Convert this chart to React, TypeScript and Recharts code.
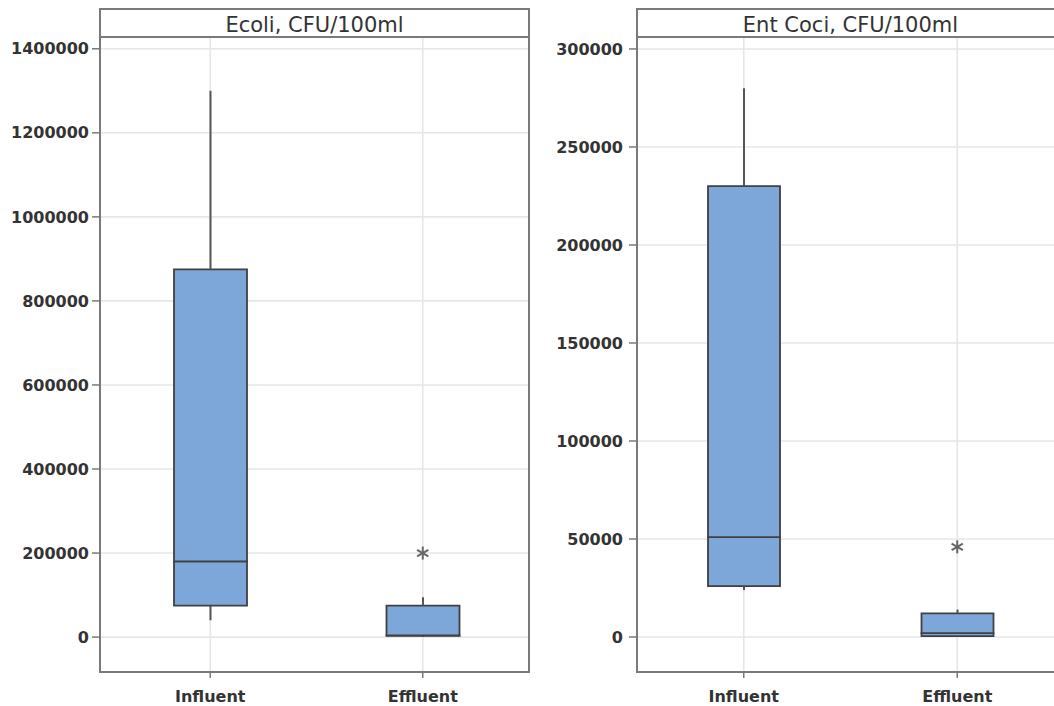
import { ComposedChart, Bar, Scatter, XAxis, YAxis, CartesianGrid } from "recharts";

const groups = ["Influent", "Effluent"];

// Ecoli, CFU/100ml
const ecoliMin = [40000, 1000];
const ecoliQ1 = [75000, 3000];
const ecoliMedian = [180000, 4000];
const ecoliQ3 = [875000, 75000];
const ecoliMax = [1300000, 95000];
const ecoliOutliers = [null, 200000];
const ecoliTicks = [0, 200000, 400000, 600000, 800000, 1000000, 1200000, 1400000];

// Ent Coci, CFU/100ml
const entMin = [24000, 200];
const entQ1 = [26000, 400];
const entMedian = [51000, 2000];
const entQ3 = [230000, 12000];
const entMax = [280000, 14000];
const entOutliers = [null, 46000];
const entTicks = [0, 50000, 100000, 150000, 200000, 250000, 300000];

const FONT = "'DejaVu Sans', sans-serif";
const BOX_FILL = "#7da7d9";
const FRAME = "#7a7a7a";

function buildRows(
  min: number[],
  q1: number[],
  med: number[],
  q3: number[],
  max: number[],
  out: (number | null)[]
) {
  return groups.map((name, i) => ({
    name,
    base: min[i],
    lowWhisker: q1[i] - min[i],
    lowBox: med[i] - q1[i],
    highBox: q3[i] - med[i],
    highWhisker: max[i] - q3[i],
    outlier: out[i],
  }));
}

const Whisker = (props: any) => {
  const { x, y, width, height } = props;
  if (x == null || y == null) return <g />;
  const cx = x + width / 2;
  return <line x1={cx} x2={cx} y1={y} y2={y + height} stroke="#555" strokeWidth={2} />;
};

const Asterisk = (props: any) => {
  const { cx, cy } = props;
  if (cx == null || cy == null || isNaN(cy)) return <g />;
  const r = 6.5;
  return (
    <g stroke="#666" strokeWidth={2}>
      {[90, 30, 150].map((a) => {
        const dx = r * Math.cos((a * Math.PI) / 180);
        const dy = r * Math.sin((a * Math.PI) / 180);
        return <line key={a} x1={cx - dx} y1={cy - dy} x2={cx + dx} y2={cy + dy} />;
      })}
    </g>
  );
};

type PanelProps = {
  title: string;
  rows: ReturnType<typeof buildRows>;
  ticks: number[];
  domain: [number, number];
  left: number;
  width: number;
  marginLeft: number;
  marginRight: number;
  labelGap: number;
  barSize: number;
  padLeft: number;
};

const Panel = (p: PanelProps) => {
  const plotLeft = p.left + 90 + p.marginLeft;
  const plotWidth = p.width - 90 - p.marginLeft - p.marginRight;
  return (
    <>
      <div style={{ position: "absolute", left: p.left, top: 0 }}>
        <ComposedChart
          width={p.width}
          height={706}
          data={p.rows}
          barCategoryGap={0}
          margin={{ top: 37, right: p.marginRight, bottom: 4, left: p.marginLeft }}
        >
          <CartesianGrid stroke="#e6e6e6" strokeWidth={1.6} />
          <XAxis
            dataKey="name"
            type="category"
            height={30}
            padding={{ left: p.padLeft, right: 0 }}
            axisLine={false}
            tickLine={{ stroke: FRAME, strokeWidth: 1.5 }}
            tickSize={6}
            tickMargin={13}
            tick={{ fontFamily: FONT, fontSize: 16, fontWeight: "bold", fill: "#333" }}
          />
          <YAxis
            type="number"
            width={90}
            domain={p.domain}
            ticks={p.ticks}
            allowDataOverflow
            axisLine={false}
            tickLine={{ stroke: FRAME, strokeWidth: 1.5 }}
            tickSize={8}
            tickMargin={p.labelGap}
            tick={{ fontFamily: FONT, fontSize: 16, fontWeight: "bold", fill: "#333" }}
          />
          <Bar dataKey="base" stackId="b" barSize={p.barSize} shape={() => <g />} isAnimationActive={false} />
          <Bar dataKey="lowWhisker" stackId="b" barSize={p.barSize} shape={<Whisker />} isAnimationActive={false} />
          <Bar
            dataKey="lowBox"
            stackId="b"
            barSize={p.barSize}
            fill={BOX_FILL}
            stroke="#404040"
            strokeWidth={1.8}
            isAnimationActive={false}
          />
          <Bar
            dataKey="highBox"
            stackId="b"
            barSize={p.barSize}
            fill={BOX_FILL}
            stroke="#404040"
            strokeWidth={1.8}
            isAnimationActive={false}
          />
          <Bar dataKey="highWhisker" stackId="b" barSize={p.barSize} shape={<Whisker />} isAnimationActive={false} />
          <Scatter dataKey="outlier" shape={<Asterisk />} isAnimationActive={false} />
        </ComposedChart>
      </div>
      <div
        style={{
          position: "absolute",
          left: plotLeft - 1,
          top: 8,
          width: plotWidth + 2,
          height: 665,
          border: `2px solid ${FRAME}`,
          boxSizing: "border-box",
          pointerEvents: "none",
        }}
      />
      <div
        style={{
          position: "absolute",
          left: plotLeft - 1,
          top: 36,
          width: plotWidth + 2,
          height: 0,
          borderTop: `2px solid ${FRAME}`,
          pointerEvents: "none",
        }}
      />
      <div
        style={{
          position: "absolute",
          left: plotLeft,
          top: 11,
          width: plotWidth,
          lineHeight: "28px",
          textAlign: "center",
          fontFamily: FONT,
          fontSize: 21,
          color: "#333",
          pointerEvents: "none",
        }}
      >
        {p.title}
      </div>
    </>
  );
};

export default function App() {
  const ecoliRows = buildRows(ecoliMin, ecoliQ1, ecoliMedian, ecoliQ3, ecoliMax, ecoliOutliers);
  const entRows = buildRows(entMin, entQ1, entMedian, entQ3, entMax, entOutliers);
  return (
    <div
      style={{
        position: "absolute",
        left: 0,
        top: 0,
        width: 1054,
        height: 706,
        overflow: "hidden",
        background: "#fff",
      }}
    >
      <Panel
        title="Ecoli, CFU/100ml"
        rows={ecoliRows}
        ticks={ecoliTicks}
        domain={[-83000, 1428000]}
        left={0}
        width={540}
        marginLeft={10}
        marginRight={11}
        labelGap={3}
        barSize={73}
        padLeft={4}
      />
      <Panel
        title="Ent Coci, CFU/100ml"
        rows={entRows}
        ticks={entTicks}
        domain={[-17860, 306100]}
        left={540}
        width={540}
        marginLeft={7}
        marginRight={16}
        labelGap={6}
        barSize={72}
        padLeft={0}
      />
    </div>
  );
}
